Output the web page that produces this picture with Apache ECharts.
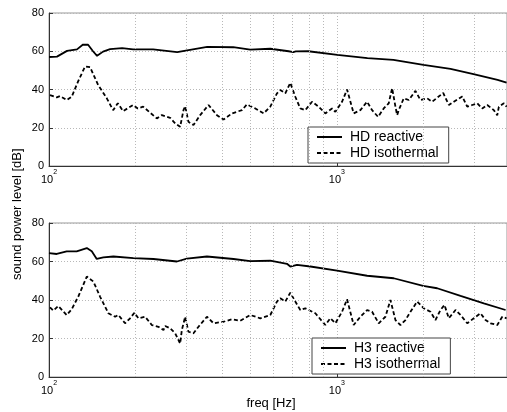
<!DOCTYPE html>
<html><head><meta charset="utf-8">
<script src="https://cdn.jsdelivr.net/npm/echarts@6/dist/echarts.min.js"></script>
<style>html,body{margin:0;padding:0;background:#fff}#c{width:507px;height:412px}</style>
</head><body><div id="c"></div>
<script>
// ---- data ----
const hdReactive = [[100,57],[106.6,57.2],[115.5,60.2],[125.1,61],[131.3,63.5],[136.7,63.4],[142.2,60],[146.9,57.6],[154.1,59.8],[163,61.1],[179.5,61.6],[196,61],[230,61],[278.8,59.5],[302,60.5],[354.5,62.3],[436.5,62.1],[500,60.8],[587,61.3],[680,60],[690,59],[706,59.6],[720,59.9],[796,60],[1004,58.1],[1277,56.4],[1572,55.5],[1999,52.9],[2482,50.8],[2984,48.1],[3616,45],[3887,43.6]];
const hdIso = [[100.8,37.1],[106.4,35.9],[109.2,36.6],[115.2,34.5],[119.9,36.2],[126.1,44.1],[133.4,52],[138.9,51.7],[148.1,42.4],[158.8,35.4],[167,29.2],[173.4,32.8],[180.9,28.7],[196,31.9],[203.4,30.1],[212.3,31],[236.9,24.9],[246.6,26.6],[249.8,26.1],[263.6,25.2],[274.4,22.3],[285.5,20.5],[293.2,29.2],[297.2,31.3],[305.1,23.1],[317.6,21.4],[335.1,26.6],[358.2,31.9],[383.2,26.6],[404.1,24.3],[432.1,27.5],[468,29.2],[487.2,32.2],[520.6,30.1],[556.5,27.5],[587.2,31],[619.4,38],[636,39.7],[662.1,38],[689,43.5],[717.3,36.2],[746.5,30.1],[777,29.2],[819.9,33.6],[864.5,31],[912,27.5],[962.3,30.1],[988.1,28.3],[1042.5,33.6],[1085.1,40],[1143.9,27.5],[1207,29.2],[1273.5,33.6],[1325.4,29.2],[1391,25.7],[1454.8,30.1],[1514.3,32.8],[1556,40.7],[1597.8,31],[1619.7,26.6],[1640.6,29.2],[1707.3,35.4],[1777.1,34.5],[1875,39.3],[1951.7,34.5],[2059.3,35.4],[2143.3,33.6],[2341,38.2],[2448.5,31.9],[2548.6,33.6],[2726,36.4],[2837.4,31],[2953.4,31.9],[3074.1,32.8],[3199,30.1],[3329.7,31.9],[3510.7,29.2],[3607.4,26.5],[3654.2,31],[3803.6,32.8],[3887,31]];
const h3Reactive = [[100,64.4],[106.4,63.9],[115.2,65.3],[124.8,65.3],[135.3,67],[140.8,65.3],[146.5,61.3],[154.5,62.1],[167.4,62.6],[196.5,61.8],[230.6,61.3],[278.2,60],[301.3,61.5],[353.7,62.6],[437.5,61.3],[500,60.2],[587,60.4],[671,58.8],[689,57.4],[727,58.3],[809,57.4],[1002,55.3],[1274,52.6],[1576,51.3],[1994,47.3],[2231,46.1],[2689,42.1],[3240,38.3],[3856,34.8]];
const h3Iso = [[100.8,36.2],[103.5,34.5],[107.7,36.9],[115.2,32.2],[119.9,35.2],[126.4,41.8],[135.3,52.2],[142.6,49.6],[150.4,41.8],[160.8,33.1],[169.7,31.3],[174.2,32.2],[183.8,27.9],[191.3,30.5],[198,33.4],[204.4,30.5],[215.8,31.3],[227.6,27],[240,26.1],[249.8,24.4],[253.2,26.5],[263.6,25.3],[274.4,22.7],[285.5,17.4],[289.4,24.4],[297.2,31.3],[305.1,23.5],[317.6,22.7],[330.6,26.1],[353.7,31.3],[372.9,27.9],[404.1,28.7],[432.1,30],[461.6,29.2],[500.2,32.2],[542,30.5],[587.2,32.2],[619.4,39.2],[636,40.9],[662.1,39.2],[689.1,43.8],[717.3,39.2],[746.5,34.8],[777,35.7],[841.9,33.1],[912,27],[949.3,30.5],[988.1,27.9],[1042.5,33.9],[1085.1,40.4],[1143.9,27],[1207,31.3],[1273.5,34.8],[1325.4,33.9],[1397.7,27.9],[1474.7,31.3],[1535,40],[1556,40],[1597.8,29.6],[1663.1,27],[1731,29.6],[1801.8,33.9],[1901.1,39.2],[2004,35.7],[2114.4,33.9],[2200.8,29.6],[2290.9,34.8],[2365.4,37.4],[2448.5,30.5],[2583.5,34.8],[2689.1,32.2],[2837.4,27.9],[2991.1,30.5],[3155.9,33.1],[3284.8,29.6],[3419,27.9],[3607.4,27],[3754.9,31.3],[3887,30.5]];
const minorGridFreqs = [200,300,400,500,600,700,800,900,2000,3000];
const xMin = 100, xMax = 3900;

// ---- chart ----
const chart = echarts.init(document.getElementById('c'), null, {renderer:'canvas'});
const FONT = 'Liberation Sans, Arial, sans-serif';
const gridLine = {show:true, lineStyle:{color:'#b8b8b8', type:[1,2], width:1}};
function xAxis(i){
  return {type:'log', gridIndex:i, logBase:10, min:xMin, max:xMax,
    axisLine:{show:true, onZero:false, lineStyle:{color:'#333'}},
    axisTick:{show:true, inside:true, length:4, lineStyle:{color:'#333'}},
    splitLine:gridLine,
    axisLabel:{fontFamily:FONT, color:'#000', margin:3, showMaxLabel:false,
      formatter:v=>{const e=Math.log10(v); return Math.abs(e-Math.round(e))<1e-6 ? '{b|10}{s|'+Math.round(e)+'}' : '';},
      rich:{b:{fontSize:11, fontFamily:FONT, color:'#000', lineHeight:16, verticalAlign:'bottom'},
            s:{fontSize:7, fontFamily:FONT, color:'#000', lineHeight:16, verticalAlign:'top'}}}};
}
function yAxis(i){
  return {type:'value', gridIndex:i, min:0, max:80, interval:20,
    axisLine:{show:true, lineStyle:{color:'#333'}},
    axisTick:{show:true, inside:true, length:4, lineStyle:{color:'#333'}},
    splitLine:gridLine,
    axisLabel:{fontFamily:FONT, fontSize:11, color:'#000', margin:5}};
}
function lineSeries(name, data, i, dashed){
  return {name, type:'line', xAxisIndex:i, yAxisIndex:i, data, symbol:'none', showSymbol:false, smooth:false,
    lineStyle:{color:'#000', width:1.8, type: dashed ? [4,2.5] : 'solid'}, itemStyle:{color:'#000'},
    animation:false, z:3};
}
function gridMarks(i){
  return {type:'line', xAxisIndex:i, yAxisIndex:i, data:[], silent:true, animation:false,
    markLine:{symbol:'none', silent:true, label:{show:false},
      lineStyle:{color:'#b8b8b8', type:[1,2], width:1},
      data: minorGridFreqs.map(f=>({xAxis:f}))}};
}
function legend(names, left, top){
  return {show:true, orient:'vertical', left:left, top:top, data:names,
    backgroundColor:'#fff', borderColor:'#444', borderWidth:1, padding:[3,10,3,8],
    itemWidth:25, itemHeight:14, itemGap:2,
    itemStyle:{color:'rgba(0,0,0,0)', borderColor:'rgba(0,0,0,0)', borderWidth:0, opacity:0},
    textStyle:{fontFamily:FONT, fontSize:14, color:'#000', padding:[0,0,0,3]}};
}
chart.setOption({
  animation:false,
  grid:[{left:49, top:13, width:458, height:153, show:true, borderColor:'#999', borderWidth:1, backgroundColor:'transparent', outerBoundsMode:'none', containLabel:false},
        {left:49, top:223, width:458, height:154, show:true, borderColor:'#999', borderWidth:1, backgroundColor:'transparent', outerBoundsMode:'none', containLabel:false}],
  xAxis:[xAxis(0), xAxis(1)],
  yAxis:[yAxis(0), yAxis(1)],
  legend:[legend(['HD reactive','HD isothermal'],308,127), legend(['H3 reactive','H3 isothermal'],312,338)],
  series:[gridMarks(0), gridMarks(1),
    lineSeries('HD reactive', hdReactive, 0, false),
    lineSeries('HD isothermal', hdIso, 0, true),
    lineSeries('H3 reactive', h3Reactive, 1, false),
    lineSeries('H3 isothermal', h3Iso, 1, true)],
  graphic:[
    {type:'text', x:271, y:397, style:{text:'freq [Hz]', font:'13px '+FONT, fill:'#000', align:'center'}},
    {type:'text', x:11, y:280, rotation:Math.PI/2, style:{text:'sound power level [dB]', font:'13px '+FONT, fill:'#000'}}
  ]
});
</script></body></html>
